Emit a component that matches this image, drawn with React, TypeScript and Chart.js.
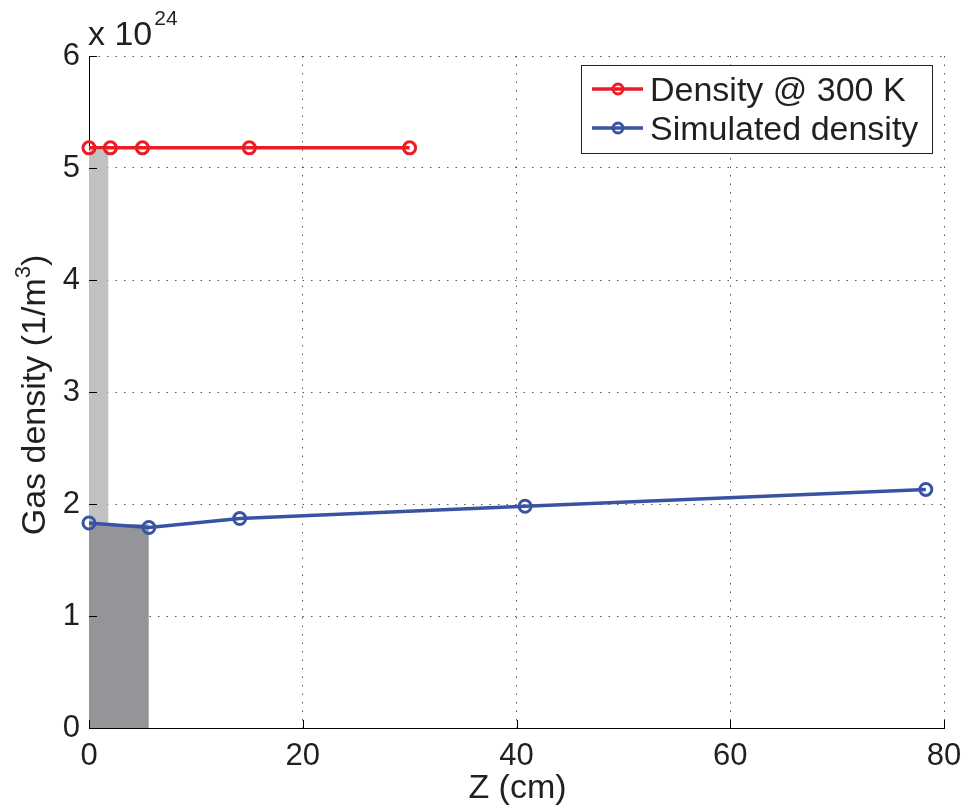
import React, { useEffect, useRef } from "react";
import { Chart, registerables } from "chart.js";

Chart.register(...registerables);

// ---- data (density values in units of 10^24 1/m^3) ----
const densityZ = [0, 2, 5, 15, 30];
const densityVals = [5.18, 5.18, 5.18, 5.18, 5.18];
const simZ = [0, 5.6, 14.1, 40.8, 78.3];
const simVals = [1.83, 1.79, 1.87, 1.98, 2.13];
const lightRegionZ = [0, 1.82];
const lightRegionVals = [5.16, 5.16];
const darkRegionZ = [0, 5.6];
const darkRegionVals = [1.82, 1.82];
const xTicks = [0, 20, 40, 60, 80];
const yTicks = [0, 1, 2, 3, 4, 5, 6];
const exponentLabel = "24";
const seriesLabels = ["Density @ 300 K", "Simulated density"];
const xTitle = "Z (cm)";
const yTitleMain = "Gas density (1/m";
const yTitleSup = "3";
const yTitleEnd = ")";

const FONT = "'Liberation Sans', Arial, Helvetica, sans-serif";
const TEXT = "#231f20";
const RED = "#ed1c24";
const BLUE = "#3953a4";
const LIGHT = "#c0c1c3";
const DARK = "#939598";

const pts = (xs: number[], ys: number[]) => xs.map((x, i) => ({ x, y: ys[i] }));

const decorPlugin = {
  id: "decor",
  afterDraw(chart: any) {
    const { ctx, chartArea, scales } = chart;
    const xs = scales.x;
    const ys = scales.y;
    ctx.save();
    // inward tick marks
    ctx.strokeStyle = "#000";
    ctx.lineWidth = 1;
    ctx.beginPath();
    xTicks.forEach((v) => {
      const px = Math.round(xs.getPixelForValue(v)) + 0.5;
      ctx.moveTo(px, chartArea.bottom);
      ctx.lineTo(px, chartArea.bottom - 8);
    });
    yTicks.forEach((v) => {
      const py = Math.round(ys.getPixelForValue(v)) + 0.5;
      ctx.moveTo(chartArea.left, py);
      ctx.lineTo(chartArea.left + 8, py);
    });
    ctx.stroke();

    // exponent label
    ctx.fillStyle = TEXT;
    ctx.textBaseline = "alphabetic";
    ctx.textAlign = "left";
    ctx.font = `34px ${FONT}`;
    const base = "x 10";
    ctx.fillText(base, chartArea.left - 1, 45);
    const bw = ctx.measureText(base).width;
    ctx.font = `21px ${FONT}`;
    ctx.fillText(exponentLabel, chartArea.left - 1 + bw + 2, 25);

    // x title
    ctx.font = `34px ${FONT}`;
    ctx.textAlign = "center";
    ctx.fillText(xTitle, (chartArea.left + chartArea.right) / 2 + 1, 798);

    // y title (rotated, with superscript)
    ctx.save();
    ctx.translate(45, 395);
    ctx.rotate(-Math.PI / 2);
    ctx.textAlign = "left";
    ctx.font = `34px ${FONT}`;
    const w1 = ctx.measureText(yTitleMain).width;
    const w3 = ctx.measureText(yTitleEnd).width;
    ctx.font = `22px ${FONT}`;
    const w2 = ctx.measureText(yTitleSup).width;
    let x0 = -(w1 + w2 + w3) / 2;
    ctx.font = `34px ${FONT}`;
    ctx.fillText(yTitleMain, x0, 0);
    x0 += w1;
    ctx.font = `22px ${FONT}`;
    ctx.fillText(yTitleSup, x0, -15);
    x0 += w2;
    ctx.font = `34px ${FONT}`;
    ctx.fillText(yTitleEnd, x0, 0);
    ctx.restore();

    // legend
    const lx = 581, ly = 65, lw = 351, lh = 88;
    ctx.fillStyle = "#fff";
    ctx.fillRect(lx, ly, lw, lh);
    ctx.strokeStyle = "#222";
    ctx.lineWidth = 1;
    ctx.strokeRect(lx + 0.5, ly + 0.5, lw, lh);
    const rows = [89, 128];
    [0, 1].forEach((i) => {
      const ds = chart.data.datasets[i];
      const y = rows[i];
      ctx.strokeStyle = ds.borderColor;
      ctx.lineWidth = 3.5;
      ctx.beginPath();
      ctx.moveTo(lx + 11, y);
      ctx.lineTo(lx + 62, y);
      ctx.stroke();
      ctx.lineWidth = 3;
      ctx.beginPath();
      ctx.arc(lx + 37, y, 5, 0, Math.PI * 2);
      ctx.stroke();
      ctx.fillStyle = TEXT;
      ctx.font = `34px ${FONT}`;
      ctx.textAlign = "left";
      ctx.textBaseline = "alphabetic";
      ctx.fillText(ds.label, lx + 69, y + 12);
    });
    ctx.restore();
  },
};

export default function App() {
  const ref = useRef<HTMLCanvasElement | null>(null);
  useEffect(() => {
    if (!ref.current) return;
    const tickFont = { family: FONT, size: 31 };
    const chart = new Chart(ref.current, {
      type: "line",
      data: {
        datasets: [
          {
            label: seriesLabels[0],
            data: pts(densityZ, densityVals),
            borderColor: RED,
            borderWidth: 3.5,
            pointRadius: 6,
            pointBorderWidth: 3,
            pointBorderColor: RED,
            pointBackgroundColor: "rgba(0,0,0,0)",
            fill: false,
            clip: false,
          } as any,
          {
            label: seriesLabels[1],
            data: pts(simZ, simVals),
            borderColor: BLUE,
            borderWidth: 3.5,
            pointRadius: 6,
            pointBorderWidth: 3,
            pointBorderColor: BLUE,
            pointBackgroundColor: "rgba(0,0,0,0)",
            fill: false,
            clip: false,
          } as any,
          {
            label: "dark region",
            data: pts(darkRegionZ, darkRegionVals),
            borderWidth: 0,
            borderColor: DARK,
            backgroundColor: DARK,
            pointRadius: 0,
            fill: "origin",
          },
          {
            label: "light region",
            data: pts(lightRegionZ, lightRegionVals),
            borderWidth: 0,
            borderColor: LIGHT,
            backgroundColor: LIGHT,
            pointRadius: 0,
            fill: "origin",
          },
        ],
      },
      options: {
        animation: false,
        responsive: false,
        layout: { padding: { left: 0, right: 19, top: 56, bottom: 0 } },
        plugins: {
          legend: { display: false },
          tooltip: { enabled: false },
        },
        scales: {
          x: {
            type: "linear",
            min: 0,
            max: 80,
            afterBuildTicks: (s: any) => {
              s.ticks = xTicks.map((v) => ({ value: v }));
            },
            ticks: { font: tickFont, color: TEXT, padding: 10, maxRotation: 0, autoSkip: false },
            grid: { color: "#555", lineWidth: 1, drawTicks: false },
            border: { display: true, color: "#000", width: 1, dash: [1.5, 7] },
            afterFit: (s: any) => {
              s.height = 82;
              s.paddingLeft = 0;
              s.paddingRight = 0;
            },
          },
          y: {
            type: "linear",
            min: 0,
            max: 6,
            afterBuildTicks: (s: any) => {
              s.ticks = yTicks.map((v) => ({ value: v }));
            },
            ticks: { font: tickFont, color: TEXT, padding: 9 },
            grid: { color: "#555", lineWidth: 1, drawTicks: false },
            border: { display: true, color: "#000", width: 1, dash: [1.5, 7] },
            afterFit: (s: any) => {
              s.width = 89;
              s.paddingTop = 0;
              s.paddingBottom = 0;
            },
          },
        },
      },
      plugins: [decorPlugin],
    });
    return () => chart.destroy();
  }, []);
  return (
    <div style={{ position: "fixed", left: 0, top: 0, width: 963, height: 810, background: "#fff" }}>
      <canvas ref={ref} width={963} height={810} style={{ width: 963, height: 810 }} />
    </div>
  );
}
